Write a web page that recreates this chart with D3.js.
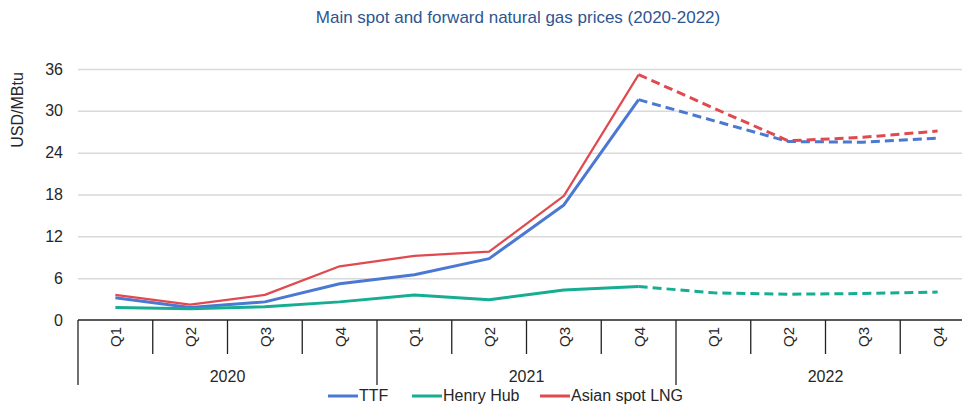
<!DOCTYPE html>
<html>
<head>
<meta charset="utf-8">
<script src="https://cdn.jsdelivr.net/npm/d3@7"></script>
<style>
body { margin: 0; background: #fff; }
svg { display: block; font-family: "Liberation Sans", Arial, sans-serif; }
</style>
</head>
<body>
<svg id="chart" width="962" height="406"></svg>
<script>
var quarters = ["Q1", "Q2", "Q3", "Q4", "Q1", "Q2", "Q3", "Q4", "Q1", "Q2", "Q3", "Q4"];
var years = ["2020", "2021", "2022"];
var yTicks = [0, 6, 12, 18, 24, 30, 36];
// first 8 quarters are spot, last 4 (from Q4 2021) forward
var lastActual = 7;
var ttf = [3.2, 1.8, 2.6, 5.2, 6.5, 8.8, 16.5, 31.6, 28.6, 25.6, 25.5, 26.1];
var henryHub = [1.8, 1.6, 1.9, 2.6, 3.6, 2.9, 4.3, 4.8, 3.9, 3.7, 3.8, 4.0];
var asianLng = [3.6, 2.2, 3.6, 7.7, 9.2, 9.8, 17.8, 35.2, 30.4, 25.7, 26.2, 27.1];
var seriesNames = ["TTF", "Henry Hub", "Asian spot LNG"];
var seriesColors = ["#4a78d2", "#16ad92", "#e04a4f"];

(function () {
    var series = [ttf, henryHub, asianLng].map(function (v, i) {
        return { name: seriesNames[i], color: seriesColors[i], values: v };
    });

    var svg = d3.select("#chart");
    var pLeft = 78, pRight = 975, pTop = 69, pBottom = 320;
    var textColor = "#262626";

    var x = d3.scaleBand().domain(d3.range(quarters.length)).range([pLeft, pRight]);
    var y = d3.scaleLinear().domain([0, 36]).range([pBottom, pTop]);

    svg.append("text")
        .attr("x", 518).attr("y", 23)
        .attr("text-anchor", "middle")
        .attr("fill", "#2e5591")
        .style("font-size", "17px")
        .text("Main spot and forward natural gas prices (2020-2022)");

    // gridlines and y labels
    var yAxis = svg.append("g").attr("transform", "translate(" + pLeft + ",0)")
        .call(d3.axisLeft(y).tickValues(yTicks).tickSize(-(pRight - pLeft)).tickPadding(15));
    yAxis.select(".domain").remove();
    yAxis.selectAll(".tick line").attr("stroke", "#d9d9d9").attr("stroke-width", 1.5);
    yAxis.selectAll(".tick text").attr("fill", textColor).style("font-size", "16px")
        .attr("font-family", "Liberation Sans, Arial, sans-serif");
    yAxis.selectAll(".tick").filter(function (d) { return d === 0; }).select("line").remove();

    svg.append("text")
        .attr("transform", "translate(23,110) rotate(-90)")
        .attr("text-anchor", "middle")
        .attr("fill", textColor)
        .style("font-size", "16px")
        .text("USD/MBtu");

    // category axis
    var xg = svg.append("g");
    xg.append("line")
        .attr("x1", pLeft).attr("x2", pRight)
        .attr("y1", pBottom).attr("y2", pBottom)
        .attr("stroke", "#222").attr("stroke-width", 1.3);
    quarters.forEach(function (q, i) {
        var x0 = x(i);
        xg.append("line")
            .attr("x1", x0).attr("x2", x0)
            .attr("y1", pBottom).attr("y2", i % 4 === 0 ? 385 : 354)
            .attr("stroke", "#222").attr("stroke-width", 1.3);
        var cx = x0 + x.bandwidth() / 2;
        xg.append("text")
            .attr("transform", "translate(" + (cx + 6) + ",337) rotate(-90)")
            .attr("text-anchor", "middle")
            .attr("fill", textColor)
            .style("font-size", "15px")
            .text(q);
    });
    years.forEach(function (yr, j) {
        var x0 = x(j * 4), x1 = x(j * 4 + 3) + x.bandwidth();
        xg.append("text")
            .attr("x", (x0 + x1) / 2).attr("y", 382)
            .attr("text-anchor", "middle")
            .attr("fill", textColor)
            .style("font-size", "16px")
            .text(yr);
    });

    // lines
    var line = d3.line()
        .x(function (d) { return x(d.i) + x.bandwidth() / 2; })
        .y(function (d) { return y(d.v); });

    series.forEach(function (s) {
        var pts = s.values.map(function (v, i) { return { i: i, v: v }; });
        svg.append("path")
            .attr("d", line(pts.slice(0, lastActual + 1)))
            .attr("fill", "none")
            .attr("stroke", s.color)
            .attr("stroke-width", s.name === "Asian spot LNG" ? 2.2 : 3)
            .attr("stroke-linejoin", "round");
        svg.append("path")
            .attr("d", line(pts.slice(lastActual)))
            .attr("fill", "none")
            .attr("stroke", s.color)
            .attr("stroke-width", 3)
            .attr("stroke-dasharray", "9,5");
    });

    // legend
    var legendX = [328, 412, 540];
    var legend = svg.append("g");
    series.forEach(function (s, i) {
        legend.append("line")
            .attr("x1", legendX[i]).attr("x2", legendX[i] + 30)
            .attr("y1", 396).attr("y2", 396)
            .attr("stroke", s.color).attr("stroke-width", 3);
        legend.append("text")
            .attr("x", legendX[i] + 31).attr("y", 401)
            .attr("fill", textColor)
            .style("font-size", "16px")
            .text(s.name);
    });
})();
</script>
</body>
</html>
